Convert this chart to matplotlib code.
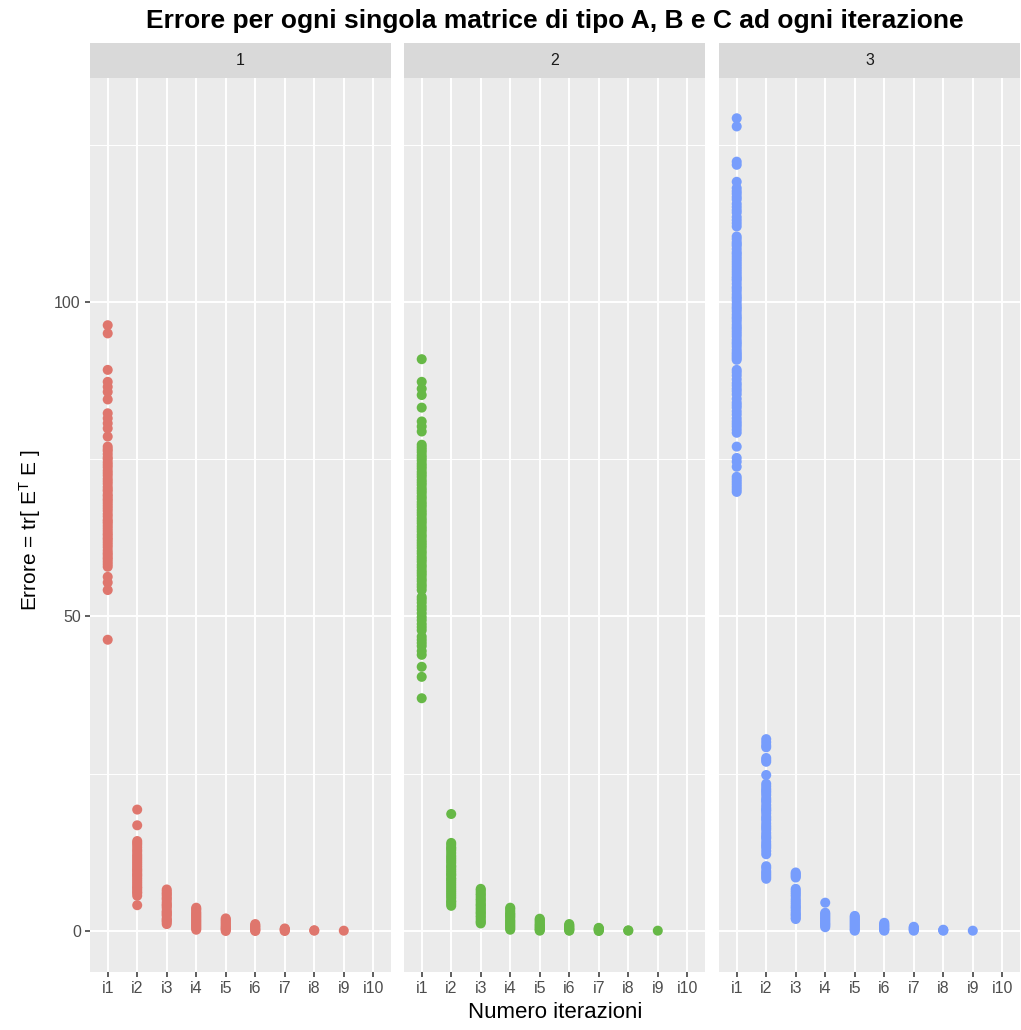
import matplotlib
matplotlib.use("Agg")
import matplotlib.pyplot as plt
import numpy as np

# Iteration labels shared by every facet
iterations = ["i1", "i2", "i3", "i4", "i5", "i6", "i7", "i8", "i9", "i10"]
facets = ["1", "2", "3"]
colors = ["#DF766D", "#66B846", "#779DFC"]

# Error tr[E^T E] of each matrix, grouped by iteration (i1 ... i10)
err_1 = [
    [96.3, 95.0, 89.2, 87.3, 86.5, 85.7, 84.5, 82.3, 81.5, 80.7, 79.9, 78.6,
     77.0, 76.6, 76.3, 75.8, 75.3, 75.0, 74.5, 74.1, 73.7, 73.2, 72.8, 72.4,
     71.9, 71.5, 71.1, 70.6, 70.2, 69.9, 69.4, 69.1, 68.7, 68.4, 68.0, 67.6,
     67.2, 66.8, 66.3, 65.9, 65.4, 65.1, 64.8, 64.4, 64.0, 63.6, 63.2, 62.9,
     62.5, 62.2, 61.8, 61.4, 61.0, 60.5, 60.1, 59.8, 59.4, 59.1, 58.7, 58.3,
     57.9, 56.3, 55.4, 54.2, 46.3],
    [19.3, 16.8, 14.3, 14.0, 13.7, 13.3, 12.9, 12.6, 12.2, 11.9, 11.6, 11.3,
     11.0, 10.7, 10.4, 10.1, 9.8, 9.6, 9.3, 9.0, 8.8, 8.5, 8.2, 7.9, 7.6, 7.3,
     7.0, 6.8, 6.5, 6.2, 6.0, 5.6, 4.1],
    [6.6, 6.3, 6.0, 5.8, 5.5, 5.2, 5.0, 4.6, 4.3, 4.1, 3.9, 3.6, 3.2, 3.0,
     2.8, 2.6, 2.4, 2.0, 1.8, 1.6, 1.4, 1.1],
    [3.7, 3.5, 3.3, 3.0, 2.8, 2.6, 2.4, 2.2, 2.0, 1.8, 1.6, 1.4, 1.2, 1.0,
     0.8, 0.6, 0.4, 0.2],
    [2.0, 1.8, 1.6, 1.4, 1.2, 1.0, 0.8, 0.6, 0.5, 0.3, 0.2, 0.0],
    [1.1, 0.9, 0.8, 0.6, 0.5, 0.3, 0.2, 0.1, 0.0],
    [0.4, 0.3, 0.25, 0.1, 0.0],
    [0.12, 0.05],
    [0.05],
    [],
]
err_2 = [
    [90.9, 87.3, 86.2, 85.2, 83.2, 81.0, 80.2, 79.4, 77.3, 76.9, 76.5, 76.1,
     75.6, 75.2, 74.8, 74.3, 73.9, 73.5, 73.0, 72.6, 72.2, 71.7, 71.3, 70.9,
     70.4, 70.0, 69.6, 69.1, 68.7, 68.2, 67.8, 67.4, 66.9, 66.5, 66.1, 65.6,
     65.2, 64.8, 64.3, 63.9, 63.5, 63.0, 62.6, 62.1, 61.7, 61.3, 60.9, 60.4,
     60.0, 59.5, 59.1, 58.7, 58.2, 57.8, 57.3, 56.9, 56.5, 56.0, 55.6, 55.1,
     54.7, 54.2, 53.1, 52.7, 52.2, 51.6, 51.1, 50.5, 49.9, 49.4, 48.8, 48.3,
     47.8, 46.8, 46.3, 45.8, 45.3, 44.5, 43.9, 42.0, 40.4, 37.0],
    [18.6, 14.0, 13.7, 13.3, 13.1, 12.8, 12.4, 12.0, 11.7, 11.4, 11.1, 10.8,
     10.4, 10.2, 9.9, 9.6, 9.3, 9.0, 8.8, 8.4, 8.2, 7.9, 7.6, 7.3, 7.0, 6.7,
     6.4, 6.1, 5.8, 5.5, 5.2, 4.8, 4.6, 4.3, 4.0],
    [6.7, 6.5, 6.2, 5.9, 5.7, 5.4, 5.1, 4.9, 4.6, 4.3, 4.1, 3.9, 3.6, 3.4,
     3.1, 2.9, 2.7, 2.4, 2.2, 1.9, 1.6, 1.4, 1.2],
    [3.7, 3.5, 3.2, 2.9, 2.7, 2.5, 2.3, 2.1, 1.8, 1.6, 1.4, 1.2, 1.0, 0.8,
     0.6, 0.4, 0.2],
    [1.95, 1.8, 1.6, 1.4, 1.2, 1.0, 0.9, 0.7, 0.6, 0.4, 0.3, 0.15, 0.05],
    [1.1, 0.9, 0.8, 0.6, 0.5, 0.35, 0.25, 0.1, 0.05],
    [0.5, 0.4, 0.3, 0.2, 0.1, 0.0],
    [0.1, 0.05],
    [0.05],
    [],
]
err_3 = [
    [129.2, 127.9, 122.3, 121.8, 119.1, 118.1, 117.6, 117.2, 116.7, 116.3,
     115.6, 115.1, 114.6, 114.2, 113.5, 113.0, 112.5, 112.0, 110.4, 110.0,
     109.5, 109.2, 108.9, 108.4, 107.9, 107.6, 107.2, 106.8, 106.4, 106.0,
     105.6, 105.2, 104.8, 104.4, 104.0, 103.7, 103.4, 102.9, 102.4, 102.1,
     101.7, 101.2, 100.8, 100.5, 100.1, 99.6, 99.2, 98.9, 98.5, 98.0, 97.6,
     97.3, 96.9, 96.4, 96.0, 95.7, 95.3, 94.9, 94.5, 94.0, 93.6, 93.3, 92.9,
     92.4, 92.0, 91.7, 91.4, 91.1, 90.8, 89.2, 88.8, 88.3, 87.7, 87.1, 86.7,
     86.2, 85.8, 85.3, 84.6, 84.0, 83.6, 83.2, 82.6, 82.1, 81.5, 81.0, 80.6,
     80.2, 79.7, 79.2, 77.0, 75.2, 74.6, 73.8, 72.2, 71.8, 71.4, 71.0, 70.6,
     70.2, 69.8],
    [30.5, 30.0, 29.5, 29.2, 27.5, 27.2, 26.9, 24.8, 23.4, 23.0, 22.6, 22.3,
     22.0, 21.6, 21.1, 20.8, 20.5, 20.0, 19.6, 19.3, 19.1, 18.7, 18.2, 17.9,
     17.6, 17.1, 16.7, 16.4, 16.1, 15.6, 15.2, 14.9, 14.7, 14.2, 13.8, 13.5,
     13.2, 12.7, 12.2, 10.3, 10.0, 9.5, 9.2, 8.9, 8.6, 8.3],
    [9.3, 9.1, 8.9, 8.7, 8.5, 6.7, 6.4, 6.1, 5.8, 5.5, 5.1, 4.8, 4.5, 4.2,
     3.9, 3.7, 3.4, 3.1, 2.8, 2.6, 2.4, 2.1, 1.9],
    [4.5, 2.9, 2.7, 2.5, 2.3, 2.1, 1.9, 1.7, 1.5, 1.3, 1.1, 1.0, 0.8, 0.6],
    [2.4, 2.2, 2.0, 1.8, 1.6, 1.4, 1.2, 1.0, 0.8, 0.6, 0.4, 0.2, 0.05],
    [1.3, 1.1, 0.9, 0.8, 0.6, 0.45, 0.3, 0.15, 0.05],
    [0.67, 0.55, 0.4, 0.3, 0.15, 0.05],
    [0.2, 0.12, 0.05],
    [0.05],
    [],
]
errors = [err_1, err_2, err_3]

y_ticks = [0, 50, 100]
y_minor = [25, 75, 125]

plt.rcParams["font.family"] = ["Liberation Sans", "DejaVu Sans"]
plt.rcParams["mathtext.fontset"] = "custom"
plt.rcParams["mathtext.rm"] = "Liberation Sans"
plt.rcParams["mathtext.it"] = "Liberation Sans"

W, H = 1021, 1030
fig = plt.figure(figsize=(W / 100, H / 100), dpi=100)
fig.patch.set_facecolor("white")

panel_left = [90, 404, 719]
panel_w = 301
panel_top, panel_bottom = 78, 972
strip_top = 43

text_col = "#4D4D4D"
for k, (left, data, col, lab) in enumerate(zip(panel_left, errors, colors, facets)):
    ax = fig.add_axes([left / W, 1 - panel_bottom / H, panel_w / W,
                       (panel_bottom - panel_top) / H])
    ax.set_facecolor("#EBEBEB")
    for s in ax.spines.values():
        s.set_visible(False)
    ax.set_xlim(-0.6, len(iterations) - 0.4)
    ax.set_ylim(-6.52, 135.6)
    ax.set_axisbelow(True)
    for yv in y_minor:
        ax.axhline(yv, color="white", lw=0.7, zorder=0)
    for yv in y_ticks:
        ax.axhline(yv, color="white", lw=1.4, zorder=0)
    for j in range(len(iterations)):
        ax.axvline(j, color="white", lw=1.4, zorder=0)

    for j, vals in enumerate(data):
        if len(vals) == 0:
            continue
        ax.scatter(np.full(len(vals), j), vals, s=52, color=col,
                   edgecolors="none", zorder=3)

    ax.set_xticks(range(len(iterations)))
    ax.set_xticklabels(iterations)
    ax.set_yticks(y_ticks)
    ax.tick_params(axis="both", length=3.6, width=1.1, color="#333333",
                   labelsize=11.5, labelcolor=text_col, pad=3)
    if k == 0:
        ax.set_yticklabels([str(v) for v in y_ticks])
    else:
        ax.tick_params(axis="y", left=False, labelleft=False)

    # facet strip
    sax = fig.add_axes([left / W, 1 - panel_top / H, panel_w / W,
                        (panel_top - strip_top) / H])
    sax.set_facecolor("#D9D9D9")
    sax.set_xticks([])
    sax.set_yticks([])
    for s in sax.spines.values():
        s.set_visible(False)
    sax.text(0.5, 0.5, lab, ha="center", va="center", fontsize=11.5,
             color="#1A1A1A", transform=sax.transAxes)

center_x = (panel_left[0] + panel_left[-1] + panel_w) / 2 / W
fig.text(center_x, 1 - 21 / H,
         "Errore per ogni singola matrice di tipo A, B e C ad ogni iterazione",
         ha="center", va="center", fontsize=19, fontweight="bold", color="black")
fig.text(center_x, 1 - 1013 / H, "Numero iterazioni", ha="center", va="center",
         fontsize=16, color="black")
fig.text(30 / W, 1 - 530 / H, r"Errore = tr[ E$^{\mathrm{T}}$ E ]", ha="center",
         va="center", rotation=90, fontsize=15, color="black")

fig.savefig("out.png", dpi=100)
